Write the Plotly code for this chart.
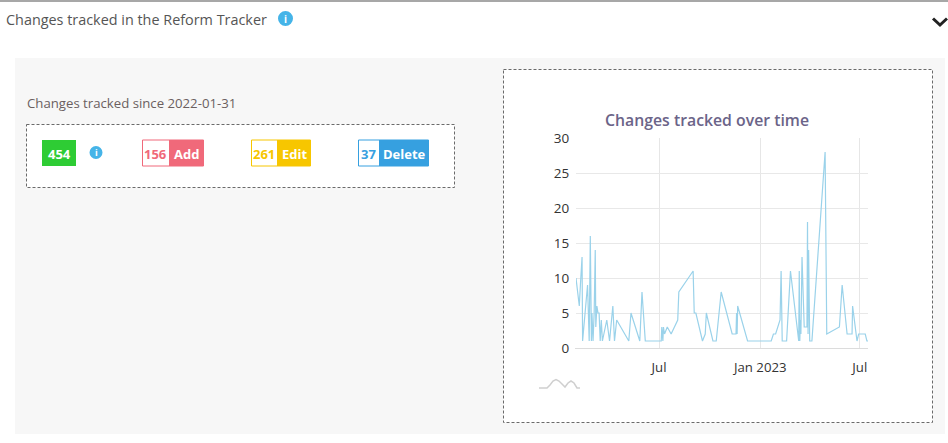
import plotly.graph_objects as go

W, H = 948, 443

dates = ["2022-01-31","2022-02-06","2022-02-08","2022-02-11","2022-02-12","2022-02-21","2022-02-24","2022-02-26","2022-02-28","2022-03-01",
"2022-03-03","2022-03-05","2022-03-07","2022-03-08","2022-03-10","2022-03-12","2022-03-14","2022-03-16","2022-03-18","2022-03-20",
"2022-03-28","2022-04-02","2022-04-08","2022-04-11","2022-04-15","2022-05-07","2022-05-11","2022-05-27","2022-05-31","2022-06-06",
"2022-07-05","2022-07-06","2022-07-08","2022-07-09","2022-07-11","2022-07-16","2022-07-23","2022-08-04","2022-08-06","2022-09-01",
"2022-09-03","2022-09-06","2022-09-18","2022-09-23","2022-09-25","2022-10-07","2022-10-13","2022-10-22","2022-11-11","2022-11-18",
"2022-11-19","2022-11-20","2022-11-21","2022-12-09","2023-01-21","2023-01-25","2023-01-29","2023-02-06","2023-02-08","2023-02-09",
"2023-02-10","2023-02-18","2023-02-25","2023-03-12","2023-03-13","2023-03-14","2023-03-15","2023-03-16","2023-03-18","2023-03-22",
"2023-03-27","2023-03-28","2023-03-29","2023-03-30","2023-04-01","2023-04-05","2023-04-29","2023-05-02","2023-05-25","2023-05-30",
"2023-06-08","2023-06-17","2023-06-18","2023-06-26","2023-06-29","2023-07-11","2023-07-14","2023-07-17"]
changes = [10,6,9,13,1,9,1,16,1,5,
1,5,14,3,6,5,5,1,4,1,
4,1,6,1,4,1,5,1,8,1,
1,3,1,3,2,3,2,4,8,11,
5,5,1,2,5,1,1,8,2,2,
5,2,6,1,1,2,2,4,11,2,
1,1,11,1,11,1,4,2,13,3,
3,18,2,14,1,1,28,2,3,9,
2,2,6,1,2,2,1,1]
y_ticks = [0,5,10,15,20,25,30]
x_tick_dates = ["2022-07-01","2023-01-01","2023-07-01"]
x_tick_labels = ["Jul","Jan 2023","Jul"]
x_range = ["2022-01-31","2023-07-16"]

page_title = "Changes tracked in the Reform Tracker"
since_text = "Changes tracked since 2022-01-31"
chart_title = "Changes tracked over time"
total = "454"
badges = [("156","Add"),("261","Edit"),("37","Delete")]

FONT = "Open Sans"
px = lambda x: x / W
py = lambda y: 1 - y / H

def rect(x0, y0, x1, y1, fill=None, line=None, dash=None, lw=1):
    return dict(type="rect", xref="paper", yref="paper", x0=px(x0), x1=px(x1), y0=py(y0), y1=py(y1),
                fillcolor=fill or "rgba(0,0,0,0)",
                line=dict(color=line or "rgba(0,0,0,0)", width=lw if line else 0, dash=dash or "solid"),
                layer="below")

def text(x, y, s, size=12, color="#555", anchor="left", weight=400):
    return dict(text=s, x=px(x), y=py(y), xref="paper", yref="paper",
                xanchor=anchor, yanchor="middle", showarrow=False,
                font=dict(family=FONT, size=size, color=color, weight=weight))

def svg_path(points):
    return "M" + " L".join(f"{px(x):.5f} {py(y):.5f}" for x, y in points)

shapes = [
    rect(15, 58, 945, 434, fill="#f7f7f7"),
    rect(26.5, 124.5, 454.5, 187.5, fill="#ffffff", line="#6a6a6a", dash="3px,2px"),
    rect(503.5, 69.5, 932.5, 422.5, fill="#ffffff", line="#6a6a6a", dash="3px,2px"),
    dict(type="line", xref="paper", yref="paper", x0=0, x1=1, y0=py(1), y1=py(1), line=dict(color="#8a8a8a", width=1.5)),
    rect(42, 140, 76, 166, fill="#2ecc34"),
    dict(type="circle", xref="paper", yref="paper", x0=px(278), x1=px(293), y0=py(11), y1=py(26), fillcolor="#45b4e8", line=dict(width=0)),
    dict(type="circle", xref="paper", yref="paper", x0=px(89.5), x1=px(102.5), y0=py(146), y1=py(159), fillcolor="#45b4e8", line=dict(width=0)),
    dict(type="path", xref="paper", yref="paper",
         path=svg_path([(933, 18.5), (940, 25), (947, 18.5)]), line=dict(color="#222222", width=3)),
    dict(type="path", xref="paper", yref="paper",
         path=svg_path([(539,388),(547,388),(550,385),(553,381),(556,379.5),(559,381),(562,384),(565,387),(568,383),(571,381),(574,383),(577,388),(580,388)]),
         line=dict(color="#cfcfcf", width=1.5)),
]

annotations = [
    text(4, 19, page_title, size=14.4, color="#555555"),
    text(25, 103, since_text, size=13.2, color="#6b5f5f"),
    text(59, 153.5, total, size=13, color="#ffffff", anchor="center", weight=700),
    text(285.5, 18.5, "i", size=10, color="#ffffff", anchor="center", weight=700),
    text(96, 152.5, "i", size=9, color="#ffffff", anchor="center", weight=700),
    text(707, 120, chart_title, size=15.8, color="#6b6488", anchor="center", weight=600),
]

badge_geom = [(142, 169, 204, "#f0697a"), (251, 277, 311, "#f7c600"), (358, 379, 429, "#36a0e0")]
for (n, lab), (x0, xm, x1, col) in zip(badges, badge_geom):
    shapes.append(rect(x0 + .5, 140, x1 - .5, 166, fill="#ffffff", line=col))
    shapes.append(rect(xm, 140, x1, 166, fill=col))
    annotations.append(text((x0 + xm) / 2, 153.5, n, size=13, color=col, anchor="center", weight=700))
    annotations.append(text((xm + x1) / 2, 153.5, lab, size=13, color="#ffffff", anchor="center", weight=700))

fig = go.Figure(go.Scatter(x=dates, y=changes, mode="lines", hoverinfo="skip",
                           line=dict(color="#9ad2ea", width=1.2), showlegend=False))
fig.update_layout(
    width=W, height=H, margin=dict(l=0, r=0, t=0, b=0, autoexpand=False),
    paper_bgcolor="#ffffff", plot_bgcolor="rgba(0,0,0,0)",
    font=dict(family=FONT, color="#333333"),
    shapes=shapes, annotations=annotations,
    xaxis=dict(domain=[px(576), px(868)], range=x_range, type="date",
               tickmode="array", tickvals=x_tick_dates, ticktext=x_tick_labels,
               showgrid=True, gridcolor="#e6e6e6", gridwidth=1, ticks="", zeroline=False,
               showline=True, linecolor="#dcdcdc", linewidth=1,
               tickfont=dict(size=13.2, color="#333333"), ticklabelstandoff=7),
    yaxis=dict(domain=[py(348), py(138)], range=[0, 30], tickmode="array", tickvals=y_ticks,
               showgrid=True, gridcolor="#e8e8e8", gridwidth=1, ticks="", zeroline=False,
               showline=True, linecolor="rgba(0,0,0,0)", ticklabelstandoff=3,
               tickfont=dict(size=13.5, color="#333333")),
)
fig.write_html("out.html", config={"displayModeBar": False},
               post_script="document.body.style.margin='0';document.body.style.overflow='hidden';")
